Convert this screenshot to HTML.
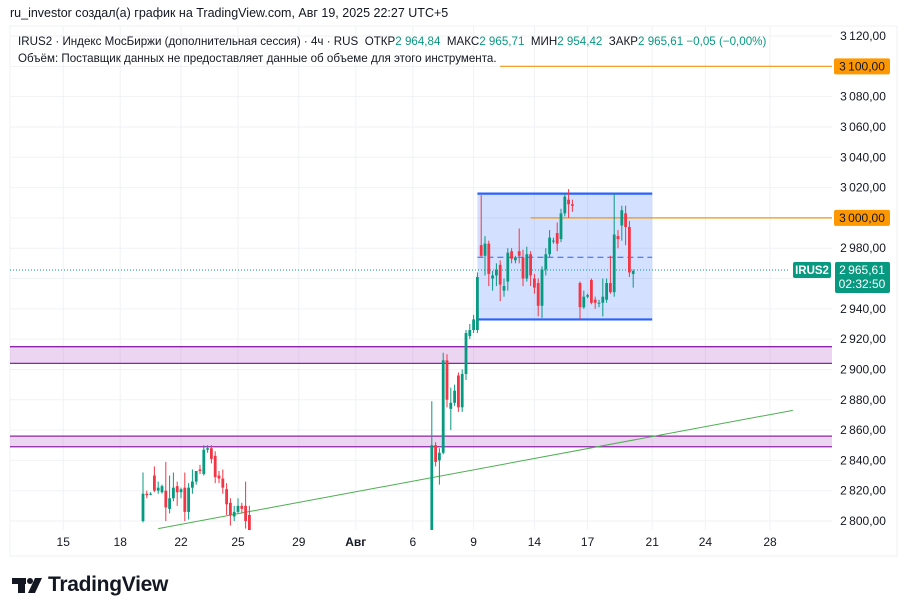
<!DOCTYPE html>
<html><head><meta charset="utf-8"><style>
body{margin:0;background:#fff;width:908px;height:616px;overflow:hidden;font-family:"Liberation Sans","Noto Sans CJK SC",sans-serif}
svg{position:absolute;left:0;top:0}
</style></head><body>
<svg id="c" width="908" height="616" xmlns="http://www.w3.org/2000/svg" font-family="Liberation Sans, DejaVu Sans, sans-serif"></svg>
<script>
const priceTicks=[3120,3100,3080,3060,3040,3020,3000,2980,2960,2940,2920,2900,2880,2860,2840,2820,2800];
const dateLabels=["15","18","22","25","29","Авг","6","9","14","17","21","24","28"];
const dateSlots=[-21,-6,10,25,41,56,71,87,103,117,134,148,165];
const group1=[[2800,2832,2799,2818],[2818,2820,2815,2817],[2818,2819,2817,2818],[2830,2836,2819,2820],[2820,2826,2818,2822],[2819,2824,2818,2823],[2820,2839,2800,2809],[2808,2830,2805,2815],[2815,2832,2813,2822],[2823,2826,2810,2819],[2819,2822,2815,2821],[2822,2832,2800,2806],[2806,2825,2801,2822],[2822,2834,2818,2826],[2826,2832,2824,2833],[2834,2837,2831,2833],[2831,2850,2830,2847],[2847,2850,2845,2848],[2848,2850,2838,2841],[2843,2846,2825,2829],[2830,2833,2825,2828],[2828,2834,2818,2822],[2821,2825,2804,2811],[2812,2815,2797,2804],[2803,2810,2800,2806],[2806,2815,2805,2810],[2810,2812,2805,2808],[2810,2826,2795,2800],[2804,2810,2790,2790]];
const group2=[[2790,2879,2780,2850],[2850,2852,2836,2839],[2840,2848,2824,2845],[2845,2911,2844,2906],[2906,2910,2875,2880],[2874,2888,2860,2878],[2878,2890,2876,2886],[2896,2898,2872,2875],[2875,2900,2872,2897],[2897,2926,2893,2924],[2922,2930,2920,2926],[2926,2936,2924,2933],[2926,2964,2924,2961],[2982,3015,2974,2975],[2975,2988,2962,2983],[2983,2985,2955,2963],[2960,2965,2952,2962],[2962,2970,2955,2966],[2969,2972,2945,2956],[2952,2960,2948,2955],[2958,2980,2952,2977],[2978,2980,2970,2973],[2972,2975,2970,2974],[2978,2993,2970,2975],[2974,2979,2955,2960],[2960,2981,2958,2976],[2976,2978,2955,2962],[2960,2963,2950,2954],[2957,2960,2935,2942],[2942,2968,2934,2966],[2966,2980,2962,2976],[2976,2992,2974,2987],[2985,2987,2983,2985],[2990,2997,2978,2983],[2986,3006,2984,3003],[3003,3016,3001,3014],[3012,3019,3000,3009],[3009,3012,3004,3008],null,[2957,2958,2933,2941],[2941,2952,2940,2948],[2948,2950,2947,2949],[2959,2960,2943,2944],[2946,2948,2940,2944],[2944,2946,2941,2944],[2944,2960,2935,2948],[2946,2960,2944,2957],[2957,2975,2950,2951],[2951,3016,2948,2989],[2988,2992,2980,2986],[2995,3008,2985,3005],[3003,3008,2982,2994],[2994,2998,2961,2964],[2963,2966,2954,2965]];
const group2Start=76;
const lastPrice=2965.61;
const box=[3016,2933],boxMid=2974,boxSlots=[88,134];
const zones=[[2915,2904],[2856,2849]];
const levels=[[3100,94],[3000,102]];
const trend=[[4,2795],[171,2873]];

const S=document.getElementById('c'),NS='http://www.w3.org/2000/svg';
const L=10,R=832,T=26,B=530;
const y=p=>521-(p-2800)*1.5156;
const x=i=>143+i*3.8;
function el(t,a,p){const e=document.createElementNS(NS,t);for(const k in a)e.setAttribute(k,a[k]);(p||S).appendChild(e);return e;}
el('rect',{x:10,y:26,width:887,height:530,fill:'none',stroke:'#eef0f3'});
const clip=el('clipPath',{id:'pc'});el('rect',{x:L,y:T,width:R-L,height:B-T},clip);
priceTicks.forEach(p=>{const g=el('line',{x1:L,x2:R,y1:y(p),y2:y(p),stroke:'#f0f2f5'});
 const t=el('text',{x:863,y:y(p)+4,'font-size':12,'text-anchor':'middle',fill:'#131722'});t.textContent=p.toFixed(2).replace('.',',').replace(/^(\d)(\d{3})/,'$1\u2009$2');});
dateLabels.forEach((d,k)=>{const xx=x(dateSlots[k]);el('line',{x1:xx,x2:xx,y1:T,y2:B,stroke:'#f0f2f5'});
 const t=el('text',{x:xx,y:546,'font-size':12,'text-anchor':'middle',fill:'#131722','font-weight':d=='Авг'?'bold':'normal'});t.textContent=d;});
const g=el('g',{'clip-path':'url(#pc)'});
zones.forEach(z=>{const r=el('rect',{x:L,y:y(z[0]),width:R-L,height:y(z[1])-y(z[0]),fill:'rgba(186,104,200,0.28)'},g);
 el('line',{x1:L,x2:R,y1:y(z[0]),y2:y(z[0]),stroke:'#8e24aa','stroke-width':1.3},g);el('line',{x1:L,x2:R,y1:y(z[1]),y2:y(z[1]),stroke:'#8e24aa','stroke-width':1.3},g);});
const bx1=x(boxSlots[0]),bx2=x(boxSlots[1]);
const br=el('rect',{x:bx1,y:y(box[0]),width:bx2-bx1,height:y(box[1])-y(box[0]),fill:'rgba(41,98,255,0.2)'},g);
[box[0],box[1]].forEach(p=>el('line',{x1:bx1,x2:bx2,y1:y(p),y2:y(p),stroke:'#2962ff','stroke-width':2.2},g));
el('line',{x1:bx1,x2:bx2,y1:y(boxMid),y2:y(boxMid),stroke:'#2962ff','stroke-dasharray':'6 4'},g);
levels.forEach(l=>{const e=el('line',{x1:x(l[1]),x2:R,y1:y(l[0]),y2:y(l[0]),stroke:'#f0960f','stroke-width':1.2},g);});
const tl=el('line',{x1:x(trend[0][0]),y1:y(trend[0][1]),x2:x(trend[1][0]),y2:y(trend[1][1]),stroke:'#4caf50','stroke-width':1},g);
el('line',{x1:L,x2:790,y1:y(lastPrice),y2:y(lastPrice),stroke:'#089981','stroke-dasharray':'1 2'},g);
function candle(c,i){if(!c)return;const up=c[3]>=c[0],col=up?'#089981':'#f23645',xx=x(i);
 const w=el('line',{x1:xx,x2:xx,y1:y(c[1]),y2:y(c[2]),stroke:col,'stroke-width':1},g);
 const top=y(Math.max(c[0],c[3])),h=Math.max(1,Math.abs(y(c[0])-y(c[3])));
 const b=el('rect',{x:xx-1.4,y:top,width:2.8,height:h,fill:col},g);}
group1.forEach((c,i)=>candle(c,i));group2.forEach((c,i)=>candle(c,group2Start+i));
function lab(p,bg,txt,w){const yy=y(p);el('rect',{x:834,y:yy-8,width:w,height:16,rx:2,fill:bg});const t=el('text',{x:834+w/2,y:yy+4,'font-size':12,'text-anchor':'middle',fill:'#131722'});t.textContent=txt;}
lab(3100,'#ff9800','3\u2009100,00',56);lab(3000,'#ff9800','3\u2009000,00',56);
const ly=y(lastPrice);
el('rect',{x:793,y:ly-8,width:38,height:16,rx:2,fill:'#089981'});
let t=el('text',{x:812,y:ly+4,'font-size':11.5,'font-weight':'bold','text-anchor':'middle',fill:'#fff'});t.textContent='IRUS2';
el('rect',{x:835,y:ly-8,width:55,height:31,rx:2,fill:'#089981'});
t=el('text',{x:862,y:ly+4,'font-size':12,'text-anchor':'middle',fill:'#fff'});t.textContent='2\u2009965,61';
t=el('text',{x:862,y:ly+18,'font-size':12,'text-anchor':'middle',fill:'#fff'});t.textContent='02:32:50';
// logo icon
const lg=el('g',{});
el('rect',{x:12,y:578,width:14,height:6,fill:'#131722'},lg);el('rect',{x:18,y:578,width:7,height:15,fill:'#131722'},lg);
el('circle',{cx:30,cy:581,r:3,fill:'#131722'},lg);el('polygon',{points:'35,578 42,578 35,593 28,593',fill:'#131722'},lg);
</script>
<div style="position:absolute;left:10px;top:6px;font-size:12.5px;color:#131722">ru_investor создал(а) график на TradingView.com, Авг 19, 2025 22:27 UTC+5</div>
<div style="position:absolute;left:18px;top:35px;font-size:11.6px;color:#131722;white-space:nowrap">IRUS2 · Индекс МосБиржи (дополнительная сессия) · 4ч · RUS&nbsp; ОТКР<span style="color:#089981">2 964,84</span>&nbsp; МАКС<span style="color:#089981">2 965,71</span>&nbsp; МИН<span style="color:#089981">2 954,42</span>&nbsp; ЗАКР<span style="color:#089981">2 965,61</span> <span style="color:#089981">−0,05 (−0,00%)</span></div>
<div style="position:absolute;left:18px;top:52px;font-size:11.6px;color:#131722;white-space:nowrap">Объём: Поставщик данных не предоставляет данные об объеме для этого инструмента.</div>
<div style="position:absolute;left:48px;top:573px;font-size:21px;font-weight:bold;color:#131722;letter-spacing:-0.3px">TradingView</div>
</body></html>
